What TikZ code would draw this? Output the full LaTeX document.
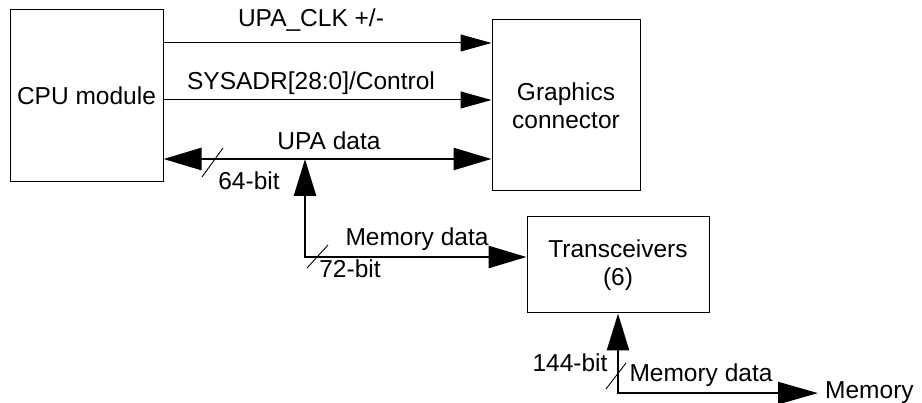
\documentclass[tikz,border=0pt]{standalone}
\usepackage{fontspec}
\setmainfont{Liberation Sans}
\usetikzlibrary{arrows.meta}
\begin{document}
\begin{tikzpicture}[x=1pt,y=-1pt,
  every node/.style={font=\fontsize{24.5}{28}\selectfont, inner sep=0pt},
  box/.style={draw, line width=1pt, align=center},
  thinarrow/.style={line width=1pt, -{Triangle[length=31pt,width=17pt]}},
  bus/.style={line width=2.6pt},
  slash/.style={line width=0.9pt},
  lbl/.style={anchor=base}]
\useasboundingbox (0,0) rectangle (922,403);
% boxes
\node[box, minimum width=153pt, minimum height=172pt] (cpu) at (86.5,95.5) {CPU module};
\node[box, minimum width=148pt, minimum height=171pt] (gfx) at (566,105.5) {Graphics\\connector};
\node[box, minimum width=182pt, minimum height=96pt] (tr) at (618,265) {Transceivers\\(6)};
\node[anchor=base west] (mem) at (825,399) {Memory};
% coordinates
\coordinate (yclk) at (0,43);
\coordinate (yadr) at (0,100);
\coordinate (j) at (305,159);
% thin arrows
\draw[thinarrow] (cpu.east |- yclk) -- (gfx.west |- yclk);
\draw[thinarrow] (cpu.east |- yadr) -- (gfx.west |- yadr);
% UPA data bus
\draw[bus, {Triangle[length=38pt,width=22pt]}-{Triangle[length=38pt,width=22pt]}] (cpu.east |- j) -- (gfx.west |- j);
% memory data bus to junction
\draw[bus, {Triangle[length=37pt,width=22pt]}-{Triangle[length=38pt,width=22pt]}] (j) |- ([yshift=8pt]tr.west);
% memory bus bottom
\draw[bus, {Triangle[length=37pt,width=22pt]}-{Triangle[length=40pt,width=22pt]}] (tr.south) |- ([xshift=-7pt]mem.west);
% slashes
\draw[slash] (202,177) -- (223,148);
\draw[slash] (307,268) -- (328,245);
\draw[slash] (606,389) -- (626,363);
% labels
\node[lbl] (lclk) at (311,27) {UPA\_CLK +/-};
\node[lbl] (ladr) at (311,90) {SYSADR[28:0]/Control};
\node[lbl] (lupa) at (329,150) {UPA data};
\node[lbl] (l64) at (249,190) {64-bit};
\node[lbl] (l72) at (350,278) {72-bit};
\node[lbl] (lmd1) at (417,246) {Memory data};
\node[lbl] (l144) at (570,372) {144-bit};
\node[lbl] (lmd2) at (701,382) {Memory data};
\end{tikzpicture}
\end{document}
